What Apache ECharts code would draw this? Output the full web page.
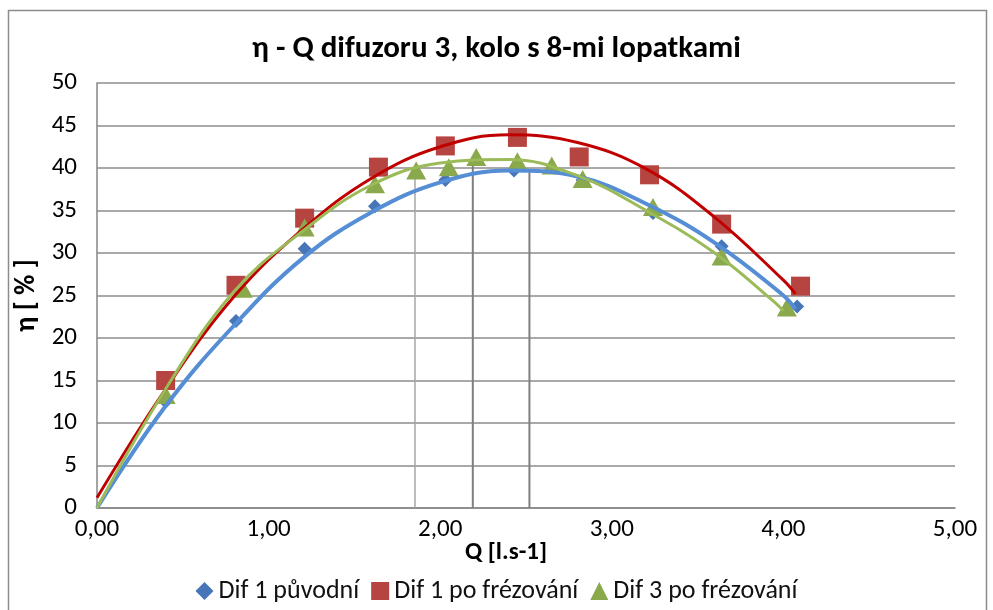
<!DOCTYPE html>
<html><head><meta charset="utf-8">
<script src="https://cdn.jsdelivr.net/npm/echarts@6/dist/echarts.min.js"></script>
<style>html,body{margin:0;padding:0;background:#fff}#c{width:993px;height:610px}</style>
</head><body><div id="c"></div>
<script>
// measured points
const blueX = [0.40, 0.81, 1.21, 1.62, 2.03, 2.43, 2.83, 3.24, 3.64, 4.08];
const blueY = [12.5, 22.0, 30.5, 35.5, 38.6, 39.7, 38.6, 34.7, 30.8, 23.7];
const redX = [0.40, 0.81, 1.21, 1.64, 2.03, 2.45, 2.81, 3.22, 3.64, 4.10];
const redY = [15.0, 26.2, 34.1, 40.1, 42.6, 43.6, 41.3, 39.2, 33.4, 26.1];
const greenX = [0.40, 0.85, 1.21, 1.62, 1.86, 2.05, 2.21, 2.45, 2.65, 2.83, 3.24, 3.64, 4.02];
const greenY = [13.3, 25.8, 33.0, 38.1, 39.7, 40.1, 41.3, 40.8, 40.3, 38.7, 35.4, 29.6, 23.6];
// trend curves
const blueCurveX = [0, 0.4, 0.8, 1.2, 1.6, 2.0, 2.4, 2.8, 3.2, 3.6, 4.0, 4.07];
const blueCurveY = [0, 12.0, 21.5, 29.4, 34.8, 38.3, 39.7, 39.0, 35.8, 31.2, 25.0, 23.4];
const redCurveX = [0, 0.4, 0.8, 1.2, 1.6, 2.0, 2.4, 2.8, 3.2, 3.6, 4.0, 4.07];
const redCurveY = [1.2, 14.0, 24.9, 32.8, 38.8, 42.5, 43.9, 43.0, 39.9, 34.2, 26.8, 25.2];
const greenCurveX = [0, 0.4, 0.8, 1.2, 1.6, 2.0, 2.4, 2.8, 3.2, 3.6, 3.95, 4.0];
const greenCurveY = [0, 14.0, 25.5, 32.6, 38.0, 40.6, 41.0, 39.1, 35.0, 30.0, 24.2, 23.2];
// vertical drop lines
const dropX = [1.853, 2.19, 2.52];
const dropTop = [40.0, 41.0, 39.6];
const xTicks = ['0,00', '1,00', '2,00', '3,00', '4,00', '5,00'];
const legendNames = ['Dif 1 původní', 'Dif 1 po frézování', 'Dif 3 po frézování'];

const F = 'Carlito, Lato, "Open Sans", sans-serif';
const zip = (a, b) => a.map((v, i) => [v, b[i]]);
const chart = echarts.init(document.getElementById('c'));
const dropSeries = dropX.map((x, i) => ({
  type: 'line', silent: true, symbol: 'none', z: 1,
  lineStyle: { color: i === 0 ? '#a6a6a6' : '#7f7f7f', width: i === 0 ? 1.5 : 2 },
  data: [[x, 0], [x, dropTop[i]]]
}));
chart.setOption({
  animation: false,
  title: { text: 'η - Q difuzoru 3, kolo s 8-mi lopatkami', left: 'center', top: 29,
    textStyle: { fontFamily: F, fontSize: 31, fontWeight: 'bold', color: '#000' } },
  grid: { left: 97, right: 38, top: 83, bottom: 102, show: false },
  graphic: [
    { type: 'rect', shape: { x: 8.5, y: 10.5, width: 978, height: 640 }, style: { fill: 'none', stroke: '#8c8c8c', lineWidth: 1.5 }, silent: true },
    { type: 'text', x: 506, y: 553, style: { text: 'Q [l.s-1]', font: 'bold 25px ' + F, fill: '#000', align: 'center', verticalAlign: 'middle' } }
  ],
  legend: { data: legendNames.map((n, i) => ({ name: n, icon: ['diamond', 'rect', 'triangle'][i] })),
    bottom: 1, left: 'center', itemWidth: 18, itemHeight: 18, itemGap: 12,
    textStyle: { fontFamily: F, fontSize: 26, color: '#111' } },
  xAxis: { type: 'value', min: 0, max: 5, interval: 1,
    axisLine: { show: true, lineStyle: { color: '#868686', width: 1.5 } },
    axisTick: { show: false }, splitLine: { show: false },
    axisLabel: { margin: 9, fontFamily: F, fontSize: 25, color: '#000', formatter: v => xTicks[Math.round(v)] } },
  yAxis: { type: 'value', min: 0, max: 50, interval: 5,
    name: 'η [ % ]', nameLocation: 'middle', nameGap: 44,
    nameTextStyle: { fontFamily: F, fontSize: 28, fontWeight: 'bold', color: '#000' },
    axisLine: { show: true, lineStyle: { color: '#868686', width: 1.5 } },
    axisTick: { show: false },
    splitLine: { lineStyle: { color: '#8c8c8c', width: 1.5 } },
    axisLabel: { margin: 20, fontFamily: F, fontSize: 25, color: '#000' } },
  series: [
    ...dropSeries,
    { name: legendNames[0], type: 'scatter', symbol: 'diamond', symbolSize: 14, itemStyle: { color: '#4675b8', opacity: 1 }, data: zip(blueX, blueY) },
    { type: 'line', smooth: 0.4, symbol: 'none', lineStyle: { color: '#558ed5', width: 4 }, data: zip(blueCurveX, blueCurveY) },
    { name: legendNames[1], type: 'scatter', symbol: 'rect', symbolSize: 19, itemStyle: { color: '#b64542', opacity: 1 }, data: zip(redX, redY) },
    { type: 'line', smooth: 0.4, symbol: 'none', lineStyle: { color: '#c00000', width: 3 }, data: zip(redCurveX, redCurveY) },
    { name: legendNames[2], type: 'scatter', symbol: 'triangle', symbolSize: [20, 18], itemStyle: { color: '#8aa84c', opacity: 1 }, data: zip(greenX, greenY) },
    { type: 'line', smooth: 0.4, symbol: 'none', lineStyle: { color: '#9bbb59', width: 3 }, data: zip(greenCurveX, greenCurveY) }
  ]
});
</script></body></html>
